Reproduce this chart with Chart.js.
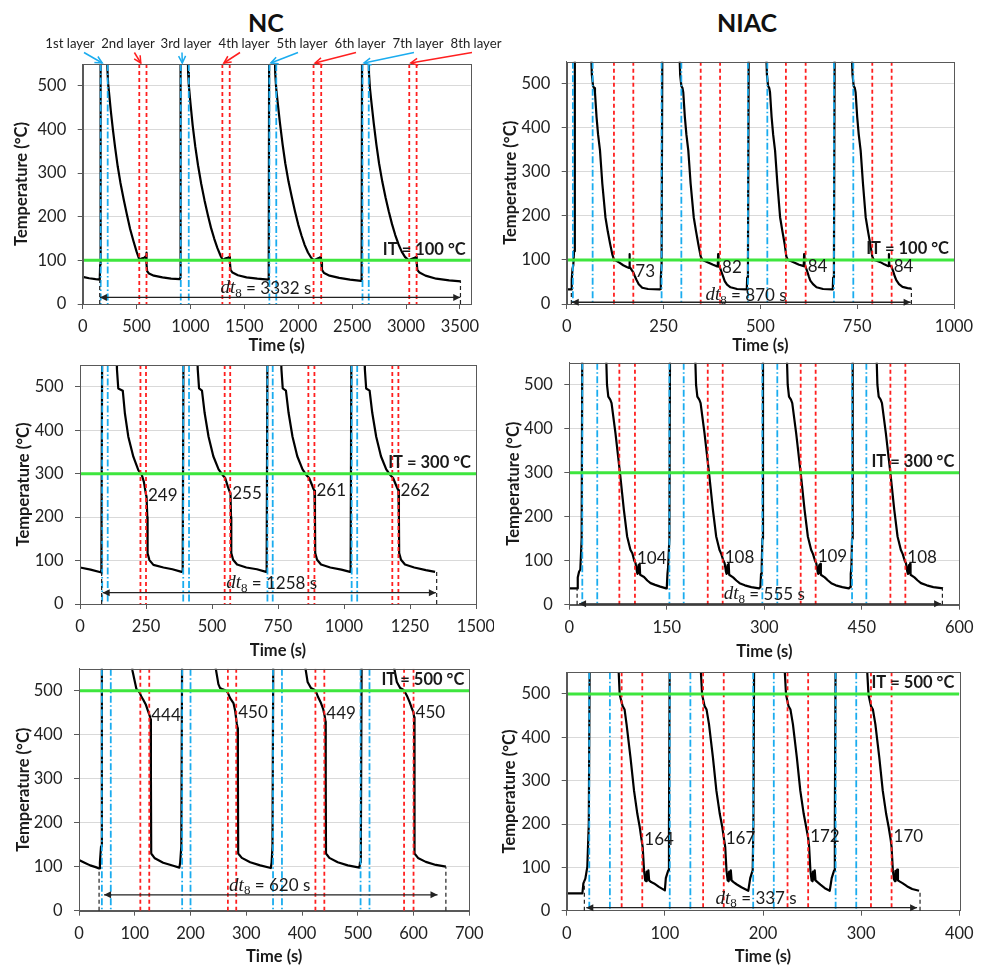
<!DOCTYPE html>
<html>
<head>
<meta charset="utf-8">
<title>NC / NIAC thermal histories</title>
<script src="https://cdn.jsdelivr.net/npm/chart.js@4.4.1/dist/chart.umd.min.js"></script>
<style>
	html, body { margin: 0; padding: 0; background: #fff; }
	body { position: relative; width: 988px; height: 967px; overflow: hidden; }
	canvas { position: absolute; }
	.head { position: absolute; top: 7px; line-height: 30px; font: bold 25px Lato, sans-serif; color: #111; transform: translateX(-50%); }
</style>
</head>
<body>
<div class="head" style="left:266px">NC</div>
<div class="head" style="left:747px">NIAC</div>
<canvas id="p1" width="540" height="360" style="left:0;top:0"></canvas>
<canvas id="p2" width="494" height="360" style="left:494px;top:0"></canvas>
<canvas id="p3" width="494" height="302" style="left:0;top:360px"></canvas>
<canvas id="p4" width="494" height="302" style="left:494px;top:360px"></canvas>
<canvas id="p5" width="494" height="305" style="left:0;top:662px"></canvas>
<canvas id="p6" width="494" height="305" style="left:494px;top:662px"></canvas>
<script>
/* Shared temperature axis. */
const tempTicks = [0, 100, 200, 300, 400, 500];
const tempMax = 550;
const layerNames = ["1st layer", "2nd layer", "3rd layer", "4th layer", "5th layer", "6th layer", "7th layer", "8th layer"];

/* NC, IT = 100 °C: [time s, temperature °C]; 600 = off the top of the chart. */
const nc100XTicks = [0, 500, 1000, 1500, 2000, 2500, 3000, 3500];
const nc100Curve = [
	[0,62],[60,59],[120,57],[158,56],[162,90],[166,600],[225,600],[229,540],[236,505],[248,475],[262,440],[280,400],[300,360],[325,315],[350,278],[380,240],[410,205],[440,172],[470,145],[500,120],[525,102],[545,104],[570,106],[588,110],[591,118],[594,90],[598,75],[615,70],[660,65],[740,61],[820,58],[900,57],
	[904,60],[908,600],[974,600],[978,530],[985,500],[1000,460],[1020,410],[1045,360],[1070,318],[1100,275],[1130,238],[1160,205],[1190,175],[1220,150],[1250,128],[1280,110],[1300,101],[1320,104],[1345,106],[1362,108],[1366,95],[1372,78],[1390,72],[1440,66],[1520,61],[1620,58],[1722,56],
	[1726,60],[1730,600],[1782,600],[1786,530],[1795,495],[1810,460],[1830,415],[1855,365],[1880,322],[1910,280],[1940,245],[1970,212],[2000,182],[2030,157],[2060,135],[2090,118],[2120,106],[2145,100],[2170,103],[2195,106],[2210,108],[2214,95],[2220,78],[2240,71],[2290,65],[2380,60],[2480,56],[2583,53],
	[2588,58],[2592,600],[2652,600],[2656,530],[2665,495],[2680,460],[2700,415],[2725,365],[2750,322],[2780,280],[2810,244],[2840,212],[2870,183],[2900,158],[2930,137],[2960,120],[2990,108],[3025,100],[3050,103],[3080,106],[3095,108],[3099,95],[3105,78],[3125,72],[3180,65],[3280,58],[3400,54],[3509,52]
];
const nc100Blue = [167, 232, 910, 984, 1732, 1796, 2596, 2654];
const nc100Red = [525, 592, 1296, 1364, 2142, 2213, 3030, 3098];
const nc100Values = [];
const nc100DtMarks = [158, 3505];
const nc100DtArrow = [160, 3503];
const nc100Dt = 3332;

/* NIAC, IT = 100 °C */
const niac100XTicks = [0, 250, 500, 750, 1000];
const niac100Curve = [
	[0,33],[12,33],[13,55],[15,80],[17,88],[19,120],[21,600],[62,600],[65,520],[68,495],[71,490],[73,480],[77,425],[81,385],[86,348],[92,273],[100,197],[106,165],[112,137],[118,112],[122,101],[128,98],[136,94],[146,88],[155,84],[161,82],[162,113],[163,84],[168,77],[172,72],[176,63],[180,55],[186,45],[195,37],[210,34],[240,33],
	[242,34],[243,60],[245,90],[247,600],[290,600],[293,520],[296,495],[299,490],[301,480],[305,425],[309,385],[314,348],[320,273],[328,197],[334,165],[340,135],[346,108],[350,100],[358,97],[368,93],[378,89],[386,86],[390,85],[391,113],[392,86],[396,82],[400,72],[404,62],[408,52],[414,44],[423,38],[440,34],[464,33],
	[465,34],[466,60],[468,90],[470,600],[514,600],[517,520],[520,495],[523,490],[525,480],[529,425],[533,385],[538,348],[544,273],[551,197],[557,165],[563,135],[567,108],[571,100],[580,97],[590,93],[600,89],[608,87],[612,86],[613,113],[614,88],[617,84],[621,74],[625,63],[629,53],[636,45],[645,38],[662,34],[686,33],
	[687,34],[688,60],[690,90],[692,600],[735,600],[738,520],[741,495],[744,490],[746,480],[750,425],[754,385],[759,348],[765,273],[772,197],[778,165],[784,135],[789,108],[793,100],[800,98],[810,95],[820,90],[828,87],[831,86],[832,113],[833,88],[839,84],[843,74],[847,63],[851,54],[858,45],[867,39],[880,36],[890,35]
];
const niac100Blue = [16, 67, 245, 296, 468, 518, 690, 740];
const niac100Red = [122, 172, 346, 396, 566, 617, 789, 839];
const niac100Values = [73, 82, 84, 84];
const niac100DtMarks = [12, 890];
const niac100DtArrow = [13, 888];
const niac100Dt = 870;

/* NC, IT = 300 °C */
const nc300XTicks = [0, 250, 500, 750, 1000, 1250, 1500];
const nc300Curve = [
	[0,84],[40,79],[78,73],[81,78],[84,600],[137,600],[140,540],[145,496],[162,491],[170,439],[183,385],[202,339],[221,308],[234,297],[242,281],[249,255],[252,247],[255,200],[256,117],[263,101],[278,90],[316,84],[350,80],[385,74],
	[389,76],[392,600],[443,600],[446,540],[451,496],[462,491],[472,440],[487,385],[505,340],[525,310],[540,297],[550,290],[560,270],[567,258],[570,255],[572,200],[573,117],[580,102],[595,91],[630,84],[670,80],[705,74],
	[707,76],[710,600],[760,600],[763,540],[768,496],[780,491],[790,440],[805,385],[823,340],[843,310],[857,297],[868,290],[878,275],[885,264],[888,261],[890,200],[891,117],[898,102],[913,91],[948,84],[990,79],[1023,74],
	[1025,76],[1028,600],[1076,600],[1079,540],[1084,496],[1097,491],[1107,440],[1122,385],[1140,340],[1160,310],[1175,297],[1186,290],[1196,275],[1203,265],[1206,262],[1208,200],[1209,117],[1216,102],[1231,91],[1266,84],[1310,78],[1345,74]
];
const nc300Blue = [84, 105, 391, 413, 710, 730, 1029, 1050];
const nc300Red = [229, 250, 548, 569, 865, 888, 1183, 1206];
const nc300Values = [249, 255, 261, 262];
const nc300DtMarks = [82, 1351];
const nc300DtArrow = [86, 1348];
const nc300Dt = 1258;

/* NIAC, IT = 300 °C */
const niac300XTicks = [0, 150, 300, 450, 600];
const niac300Curve = [
	[0,37],[12,37],[13,62],[15,75],[17,80],[19,150],[20,600],[56,600],[58,500],[60,473],[63,466],[65,458],[71,390],[78,299],[84,215],[89,155],[94,125],[97,117],[100,100],[102,94],[104,75],[105,70],[106.5,90],[107.2,72],[108.2,93],[109,68],[115,63],[120,55],[125,49],[132,45],[140,41],[149,37],
	[150,40],[151,70],[152,85],[154,150],[155,600],[193,600],[195,500],[197,473],[200,466],[202,458],[208,390],[215,299],[221,215],[226,155],[231,125],[234,115],[237,100],[239,94],[241,75],[242,70],[243.5,90],[244.2,72],[245.2,93],[246,68],[252,62],[257,55],[262,49],[270,44],[280,40],[292,37],
	[294,40],[295,70],[296,85],[297,150],[298,600],[334,600],[336,500],[338,473],[341,466],[343,458],[349,390],[356,299],[362,215],[367,155],[372,125],[375,115],[378,100],[380,94],[382,75],[383,70],[384.5,90],[385.2,72],[386.2,93],[387,68],[393,62],[398,55],[403,49],[410,44],[420,40],[430,37],
	[432,40],[433,70],[434,85],[435,150],[436,600],[472,600],[474,500],[476,473],[479,466],[481,458],[487,390],[494,299],[500,215],[505,155],[510,125],[513,115],[516,100],[518,94],[520,75],[521,70],[522.5,90],[523.2,72],[524.2,93],[525,68],[531,62],[536,55],[541,49],[550,44],[560,40],[575,37]
];
const niac300Blue = [20, 43, 154, 176, 297, 320, 435, 457];
const niac300Red = [77, 101, 213, 236, 356, 379, 494, 517];
const niac300Values = [104, 108, 109, 108];
const niac300DtMarks = [12, 574];
const niac300DtArrow = [15, 572];
const niac300Dt = 555;

/* NC, IT = 500 °C */
const nc500XTicks = [0, 100, 200, 300, 400, 500, 600, 700];
const nc500Curve = [
	[0,115],[10,109],[20,103],[30,99],[36,96],[37.5,110],[39.5,146],[41,600],[92,600],[96,545],[103,504],[106,500],[109,495],[112,486],[115,480],[120,468],[124,453],[127,442],[128.5,435],[129,300],[129.5,130],[136,119],[151,109],[169,102],[180,98],
	[181.5,110],[183.5,146],[185,600],[240,600],[244,560],[250,515],[253,506],[258,503],[264,500],[267,495],[271,483],[277,472],[280,455],[283,425],[284.5,415],[285,300],[285.5,130],[292,120],[307,110],[325,103],[344,97],
	[345.5,110],[347,146],[348.5,600],[401,600],[405,560],[410,520],[416,506],[421,503],[425,498],[429,485],[434,472],[438,458],[441,440],[442,430],[442.5,300],[443,130],[449,120],[464,110],[482,103],[503,98],
	[504,110],[505.5,146],[507,600],[560,600],[564,560],[570,520],[576,506],[581,503],[585,496],[589,486],[593,474],[597,460],[600,450],[601,440],[601.5,300],[602,130],[608,120],[622,111],[640,104],[658,100]
];
const nc500Blue = [41, 57, 185, 200, 348, 364, 505, 521];
const nc500Red = [110, 126, 267, 282, 424, 440, 583, 600];
const nc500Values = [444, 450, 449, 450];
const nc500DtMarks = [36, 658];
const nc500DtArrow = [45, 643];
const nc500Dt = 620;

/* NIAC, IT = 500 °C */
const niac500XTicks = [0, 100, 200, 300, 400];
const niac500Curve = [
	[0,40],[16,40],[17,63],[19,74],[21,101],[22.5,200],[23.5,600],[52,600],[54,498],[57,472],[59,464],[61,430],[65,353],[68.6,277],[72,223],[74.4,193],[76.4,162],[77.4,147],[78.8,93],[80,70],[81,68],[81.5,90],[82.3,72],[83.2,93],[84,70],[86,66],[89,63],[94,55],[100,47],[101,75],[102.5,86],[103.5,93],[104.2,200],[105,600],
	[135.5,600],[138,498],[140.5,472],[142.5,464],[145,430],[149,353],[152.5,277],[156,223],[158.5,193],[160.5,162],[161.5,147],[162.8,93],[164,70],[165,68],[165.5,90],[166.3,72],[167.2,93],[168,70],[170,66],[173,61],[178,54],[185,46],[187,75],[188.5,86],[189.5,93],[190.2,200],[191,600],
	[221,600],[223.5,498],[226,472],[228,464],[230.5,430],[234.5,353],[238,277],[241.5,223],[244,193],[246,168],[247,147],[248.3,93],[249.5,70],[250.5,68],[251,90],[251.8,72],[252.7,93],[253.5,70],[255.5,66],[258.5,60],[263,52],[268,46],[270,75],[271.5,86],[272.5,93],[273.2,200],[274,600],
	[305,600],[307.5,498],[310,472],[312,464],[314.5,430],[318.5,353],[322,277],[325.5,223],[328,193],[330,165],[331,147],[332.3,93],[333.5,72],[334.5,68],[335,92],[335.8,72],[336.7,95],[337.5,70],[339.5,67],[342.5,63],[347,56],[352,50],[359,46]
];
const niac500Blue = [23, 44, 105, 126, 190, 211, 274, 295];
const niac500Red = [56, 77, 139, 160, 225, 246, 310, 331];
const niac500Values = [164, 167, 172, 170];
const niac500DtMarks = [18, 360];
const niac500DtArrow = [20, 357];
const niac500Dt = 337;

/* Panel set-up: data plus where each plot sits on the page. */
const panels = [
	{ id: "p1", curve: nc100Curve, blue: nc100Blue, red: nc100Red, values: nc100Values, it: 100,
	  xTicks: nc100XTicks, xMax: 3600, dtMarks: nc100DtMarks, dtArrow: nc100DtArrow, dt: nc100Dt,
	  dtY: 15, dtAt: [1700, 36], box: [0, 0, 540, 360], plot: [82.7, 64, 470.7, 304], yTitleX: 22, xTitleY: 346, layers: true },
	{ id: "p2", curve: niac100Curve, blue: niac100Blue, red: niac100Red, values: niac100Values, it: 100,
	  xTicks: niac100XTicks, xMax: 1000, dtMarks: niac100DtMarks, dtArrow: niac100DtArrow, dt: niac100Dt,
	  dtY: 4, dtAt: [463, 20], box: [494, 0, 494, 360], plot: [566.7, 61.7, 954, 304], yTitleX: 510.7, xTitleY: 346 },
	{ id: "p3", curve: nc300Curve, blue: nc300Blue, red: nc300Red, values: nc300Values, it: 300,
	  xTicks: nc300XTicks, xMax: 1500, dtMarks: nc300DtMarks, dtArrow: nc300DtArrow, dt: nc300Dt,
	  dtY: 26, dtAt: [726, 48], box: [0, 360, 494, 302], plot: [80, 365, 476, 604], yTitleX: 23.3, xTitleY: 651 },
	{ id: "p4", curve: niac300Curve, blue: niac300Blue, red: niac300Red, values: niac300Values, it: 300,
	  xTicks: niac300XTicks, xMax: 600, dtMarks: niac300DtMarks, dtArrow: niac300DtArrow, dt: niac300Dt,
	  dtY: 2, dtAt: [300, 24], box: [494, 360, 494, 302], plot: [569.3, 362.7, 959.3, 604.7], yTitleX: 513.3, xTitleY: 652.5 },
	{ id: "p5", curve: nc500Curve, blue: nc500Blue, red: nc500Red, values: nc500Values, it: 500,
	  xTicks: nc500XTicks, xMax: 700, dtMarks: nc500DtMarks, dtArrow: nc500DtArrow, dt: nc500Dt,
	  dtY: 36, dtAt: [342, 57], box: [0, 662, 494, 305], plot: [79, 668.7, 469.3, 910.7], yTitleX: 23.3, xTitleY: 957 },
	{ id: "p6", curve: niac500Curve, blue: niac500Blue, red: niac500Red, values: niac500Values, it: 500,
	  xTicks: niac500XTicks, xMax: 400, dtMarks: niac500DtMarks, dtArrow: niac500DtArrow, dt: niac500Dt,
	  dtY: 7, dtAt: [193, 27], box: [494, 662, 494, 305], plot: [566.7, 672.3, 959.3, 910.7], yTitleX: 510, xTitleY: 958 },
];

const BLUE = "#1aacef";
const RED = "#ff1f1f";
const INK = "#1a1a1a";

/* Vertical marker lines as one gapped dataset. */
function vlines(xs) {
	const pts = [];
	xs.forEach((x) => { pts.push({ x: x, y: tempMax }, { x: x, y: 0 }, { x: x, y: null }); });
	return pts;
}

/* Curve value at a given time (linear between read points). */
function curveAt(curve, t) {
	for (let i = 1; i < curve.length; i++) {
		if (curve[i][0] >= t) {
			const [x0, y0] = curve[i - 1], [x1, y1] = curve[i];
			return x1 === x0 ? y1 : y0 + (y1 - y0) * (t - x0) / (x1 - x0);
		}
	}
	return curve[curve.length - 1][1];
}

function arrowHead(ctx, x, y, ang, len, half, filled) {
	const bx = x - len * Math.cos(ang), by = y - len * Math.sin(ang);
	const nx = -Math.sin(ang) * half, ny = Math.cos(ang) * half;
	ctx.beginPath();
	ctx.moveTo(bx + nx, by + ny);
	ctx.lineTo(x, y);
	ctx.lineTo(bx - nx, by - ny);
	if (filled) { ctx.closePath(); ctx.fill(); } else { ctx.stroke(); }
}

function line(ctx, x1, y1, x2, y2) {
	ctx.beginPath();
	ctx.moveTo(x1, y1);
	ctx.lineTo(x2, y2);
	ctx.stroke();
}

function makePlugin(p) {
	return {
		id: "extras",
		afterDraw(chart) {
			const ctx = chart.ctx, a = chart.chartArea, xs = chart.scales.x, ys = chart.scales.y;
			ctx.save();

			/* Plot frame. */
			ctx.strokeStyle = "#595959";
			ctx.lineWidth = 1;
			ctx.strokeRect(Math.round(a.left) + 0.5, Math.round(a.top) + 0.5, Math.round(a.right - a.left), Math.round(a.bottom - a.top));

			/* IT label. */
			ctx.fillStyle = INK;
			ctx.font = "bold 16.5px Lato";
			ctx.textAlign = "right";
			ctx.textBaseline = "middle";
			ctx.fillText("IT = " + p.it + " °C", a.right - 5, ys.getPixelForValue(p.it) - 11);

			/* Temperatures at the second red line of each cycle. */
			ctx.font = "17px Lato";
			ctx.textAlign = "left";
			p.values.forEach((v, i) => {
				ctx.fillText(String(v), xs.getPixelForValue(p.red[2 * i + 1]) + 2, ys.getPixelForValue(v));
			});

			/* dt8 double arrow and its dashed end marks. */
			const yA = ys.getPixelForValue(p.dtY), y0 = ys.getPixelForValue(0);
			const xa = xs.getPixelForValue(p.dtArrow[0]), xb = xs.getPixelForValue(p.dtArrow[1]);
			ctx.strokeStyle = "#222";
			ctx.fillStyle = "#222";
			ctx.lineWidth = 1.3;
			line(ctx, xa, yA, xb, yA);
			arrowHead(ctx, xa, yA, Math.PI, 7, 3.5, true);
			arrowHead(ctx, xb, yA, 0, 7, 3.5, true);
			ctx.setLineDash([4, 3]);
			ctx.lineWidth = 1.2;
			p.dtMarks.forEach((t) => {
				const x = xs.getPixelForValue(t);
				line(ctx, x, y0, x, ys.getPixelForValue(curveAt(p.curve, t)));
			});
			ctx.setLineDash([]);

			/* dt8 = ... s label. */
			const parts = [
				{ t: "dt", f: "italic 19px 'Liberation Serif'", dy: 0 },
				{ t: "8", f: "13px 'Liberation Serif'", dy: 5 },
				{ t: " = " + p.dt + " s", f: "17px Lato", dy: 0 },
			];
			let w = 0;
			parts.forEach((q) => { ctx.font = q.f; q.w = ctx.measureText(q.t).width; w += q.w; });
			let x = xs.getPixelForValue(p.dtAt[0]) - w / 2;
			const yL = ys.getPixelForValue(p.dtAt[1]);
			ctx.fillStyle = INK;
			ctx.textAlign = "left";
			ctx.textBaseline = "middle";
			parts.forEach((q) => { ctx.font = q.f; ctx.fillText(q.t, x, yL + q.dy); x += q.w; });

			/* Layer call-outs above the first panel. */
			if (p.layers) {
				ctx.font = "13.2px Lato";
				ctx.textAlign = "center";
				ctx.lineWidth = 1.5;
				layerNames.forEach((name, i) => {
					const cx = 70 + 58 * i;
					ctx.fillStyle = "#222";
					ctx.fillText(name, cx, 44);
					const cyc = Math.floor(i / 2);
					const odd = i % 2 === 0;
					const tx = xs.getPixelForValue(odd ? p.blue[2 * cyc] : p.red[2 * cyc]) + 1.5;
					const ty = a.top - 1;
					const sx = cx + (tx > cx ? Math.min(14, (tx - cx) * 0.5) : -4);
					const sy = 52.5;
					ctx.strokeStyle = odd ? BLUE : RED;
					line(ctx, sx, sy, tx, ty);
					arrowHead(ctx, tx, ty, Math.atan2(ty - sy, tx - sx), 7, 3.5, false);
				});
			}
			ctx.restore();
		},
	};
}

function makeChart(p) {
	const [cx, cy, cw, ch] = p.box;
	const [pl, pt, pr, pb] = p.plot;
	const tickFont = { family: "Lato", size: 16.5 };
	const titleFont = { family: "Lato", size: 16.5, weight: "bold" };

	return new Chart(
		document.getElementById(p.id),
		{
			type: "line",
			data:
			{
				datasets:
				[
					{ data: [{ x: 0, y: p.it }, { x: p.xMax, y: p.it }], borderColor: "#3ee63e", borderWidth: 3 },
					{ data: vlines(p.blue), borderColor: BLUE, borderWidth: 1.8, borderDash: [7, 2.5, 1.5, 2.5] },
					{ data: vlines(p.red), borderColor: RED, borderWidth: 1.8, borderDash: [4, 3] },
					{ data: p.curve.map(([x, y]) => ({ x: x, y: y })), borderColor: "#000", borderWidth: 2.2, borderJoinStyle: "round" },
				],
			},
			options:
			{
				responsive: false,
				animation: false,
				events: [],
				layout: { padding: { left: 0, top: pt - cy, right: cx + cw - pr, bottom: 0 } },
				elements: { point: { radius: 0 }, line: { tension: 0, fill: false } },
				plugins:
				{
					legend: { display: false },
					tooltip: { enabled: false },
				},
				scales:
				{
					x:
					{
						type: "linear",
						min: 0,
						max: p.xMax,
						afterBuildTicks: (s) => { s.ticks = p.xTicks.map((v) => ({ value: v })); },
						afterFit: (s) => {
							s.height = cy + ch - pb;
							s.paddingLeft = 0; s.paddingRight = 0; s.paddingTop = 0; s.paddingBottom = 0;
						},
						ticks: { font: tickFont, color: "#222", padding: 8, maxRotation: 0, autoSkip: false, callback: (v) => String(v) },
						grid: { drawOnChartArea: false, tickLength: 5, tickColor: "#595959" },
						border: { color: "#595959" },
						title: { display: true, text: "Time (s)", font: titleFont, color: INK, padding: { top: 0, bottom: Math.max(0, cy + ch - p.xTitleY - 9.9) } },
					},
					y:
					{
						type: "linear",
						min: 0,
						max: tempMax,
						afterBuildTicks: (s) => { s.ticks = tempTicks.map((v) => ({ value: v })); },
						afterFit: (s) => {
							s.width = pl - cx;
							s.paddingLeft = 0; s.paddingRight = 0; s.paddingTop = 0; s.paddingBottom = 0;
						},
						ticks: { font: tickFont, color: "#222", padding: 11.5, callback: (v) => String(v) },
						grid: { color: "#d9d9d9", tickLength: 5, tickColor: "#595959" },
						border: { color: "#595959" },
						title: { display: true, text: "Temperature (°C)", font: titleFont, color: INK, padding: { top: p.yTitleX - cx - 9.9, bottom: 0 } },
					},
				},
			},
			plugins: [makePlugin(p)],
		}
	);
}

panels.forEach(makeChart);
</script>
</body>
</html>
